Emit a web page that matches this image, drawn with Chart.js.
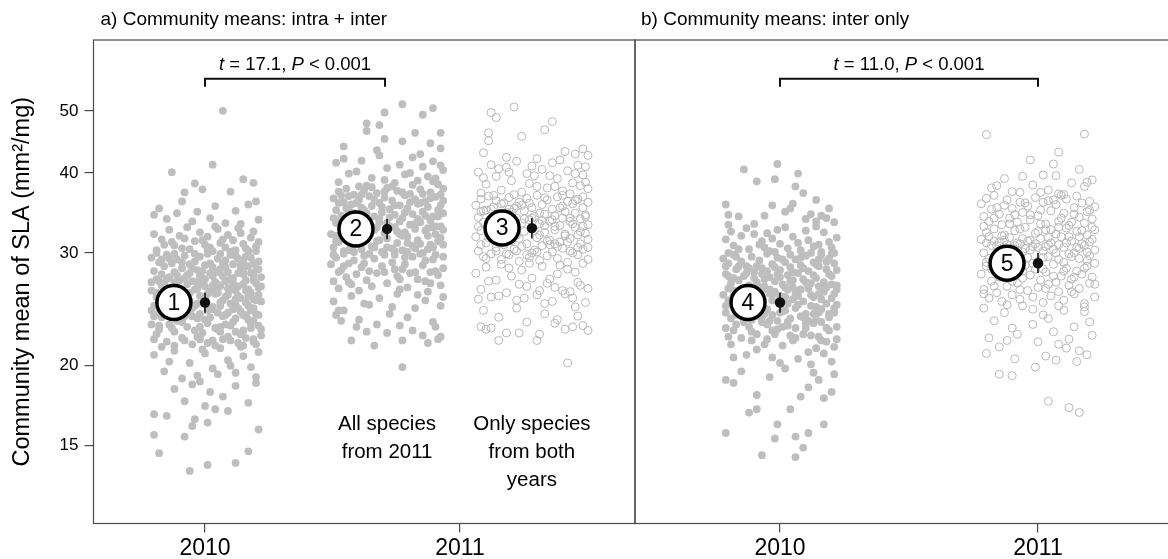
<!DOCTYPE html>
<html><head><meta charset="utf-8">
<script src="https://cdn.jsdelivr.net/npm/chart.js@4"></script>
<style>
html,body{margin:0;padding:0;background:#fff;overflow:hidden;width:1168px;height:559px;position:relative;}
#ca{position:absolute;left:0;top:0;}
#cb{position:absolute;left:630px;top:0;}
</style></head><body>
<canvas id="ca" width="640" height="559"></canvas>
<canvas id="cb" width="560" height="559"></canvas>
<script>
// ---------- DATA ----------
const yTicks = [15, 20, 30, 40, 50];
const yearPos = [1, 2];
const yearLabels = ['2010', '2011'];
const panelTitles = ['a) Community means: intra + inter', 'b) Community means: inter only'];

// cluster centres (x, in year units) per panel
const centersA = [1.0, 1.714, 2.282];
const centersB = [1.0, 2.0];

// group means and ±error (SLA, mm2/mg)
const meanA = [25.1, 32.7, 32.8];
const meanLoA = [24.2, 31.5, 31.6];
const meanHiA = [26.0, 33.9, 34.0];
const meanB = [25.1, 28.9];
const meanLoB = [24.2, 27.9];
const meanHiB = [26.0, 30.0];

// numbered markers
const numA = ['1', '2', '3'];
const numXA = [0.878, 1.592, 2.165];
const numB = ['4', '5'];
const numXB = [0.876, 1.880];

// t-test brackets
const testA = { from: 1.0, to: 1.706, y: 56.1, t: '17.1', p: '0.001' };
const testB = { from: 1.0, to: 2.0, y: 56.1, t: '11.0', p: '0.001' };

// group captions (panel a)
const captionX = [1.714, 2.282];
const captionY = 16.2;
const captionLines = [['All species', 'from 2011'], ['Only species', 'from both', 'years']];

// community means, [x jitter, SLA]
const c1 = [[0.07,50.0],[0.03,41.2],[-0.13,40.1],[0.15,39.1],[0.19,38.6],[-0.04,38.5],[-0.08,37.3],[-0.01,37.7],[0.10,37.4],[0.20,36.1],[-0.09,36.1],[-0.20,34.4],[-0.18,35.2],[0.04,35.5],[-0.03,34.8],[0.12,34.9],[0.17,35.7],[-0.15,33.9],[-0.05,33.6],[0.02,34.0],[0.08,33.4],[0.21,33.8],[-0.11,34.6],[0.14,33.3],
[-0.20,32.1],[-0.17,31.5],[-0.14,32.6],[-0.12,30.8],[-0.10,31.9],[-0.07,32.9],[-0.06,30.4],[-0.04,31.3],[-0.02,32.3],[0.00,30.9],[0.01,31.8],[0.03,30.2],[0.05,32.7],[0.06,31.1],[0.08,30.6],[0.09,32.0],[0.11,31.4],[0.12,30.3],[0.13,32.8],[0.15,31.0],[0.16,30.5],[0.18,31.7],[0.19,32.4],[0.20,30.7],[0.21,31.2],[-0.19,30.3],[-0.16,30.9],[-0.08,31.6],[0.02,30.6],[0.07,31.5],[0.10,30.1],[0.14,32.2],[0.17,30.2],[-0.13,31.2],[0.04,33.0],
[-0.21,29.5],[-0.20,28.1],[-0.19,27.3],[-0.18,29.0],[-0.17,27.8],[-0.16,28.6],[-0.15,29.8],[-0.14,27.5],[-0.13,28.9],[-0.12,28.0],[-0.11,29.3],[-0.10,27.2],[-0.09,28.4],[-0.08,29.7],[-0.07,27.7],[-0.06,28.8],[-0.05,27.1],[-0.04,29.1],[-0.03,28.2],[-0.02,29.6],[-0.01,27.4],[0.00,28.7],[0.01,29.9],[0.02,27.9],[0.03,28.5],[0.04,27.0],[0.05,29.4],[0.06,28.3],[0.07,27.6],[0.08,29.2],[0.09,28.0],[0.10,27.3],[0.11,28.8],[0.12,29.7],[0.13,27.9],[0.14,28.4],[0.15,29.0],[0.16,27.2],[0.17,28.6],[0.18,29.5],[0.19,27.7],[0.20,28.2],[0.21,29.1],[0.22,27.5],[-0.18,27.1],[-0.12,29.9],[-0.06,27.9],[0.00,27.3],[0.05,28.0],[0.10,29.8],[0.15,28.1],[0.19,28.9],[-0.03,27.0],[0.08,27.1],[0.13,29.4],
[-0.21,26.2],[-0.20,24.8],[-0.19,25.6],[-0.18,24.2],[-0.17,26.7],[-0.16,25.1],[-0.15,24.5],[-0.14,26.0],[-0.13,25.4],[-0.12,24.0],[-0.11,26.5],[-0.10,24.9],[-0.09,25.8],[-0.08,24.3],[-0.07,26.8],[-0.06,25.2],[-0.05,24.6],[-0.04,26.3],[-0.03,25.0],[-0.02,24.1],[-0.01,26.9],[0.00,25.5],[0.01,24.4],[0.02,26.1],[0.03,24.7],[0.04,25.9],[0.05,24.2],[0.06,26.6],[0.07,25.3],[0.08,24.0],[0.09,26.4],[0.10,25.0],[0.11,24.5],[0.12,26.2],[0.13,25.7],[0.14,24.3],[0.15,26.8],[0.16,25.1],[0.17,24.8],[0.18,26.0],[0.19,25.4],[0.20,24.1],[0.21,26.5],[0.22,25.2],[0.11,26.9],[0.14,25.5],[0.17,26.3],[0.19,24.6],[0.21,25.8],[0.08,25.6],[0.12,24.9],[0.16,24.0],[0.20,26.9],[0.05,26.0],[-0.16,26.4],[-0.09,24.6],[0.03,26.7],[0.18,24.4],[0.06,24.8],[-0.02,25.7],
[-0.21,23.2],[-0.19,22.4],[-0.17,23.8],[-0.15,21.8],[-0.13,22.9],[-0.11,23.5],[-0.09,22.1],[-0.07,23.0],[-0.05,21.6],[-0.03,23.7],[-0.01,22.5],[0.01,23.3],[0.03,21.9],[0.05,22.8],[0.07,23.9],[0.09,22.2],[0.11,23.4],[0.13,21.7],[0.15,22.7],[0.17,23.6],[0.19,22.0],[0.21,23.1],[0.22,22.3],[0.20,21.6],[0.18,22.9],[0.16,23.9],[0.14,22.4],[0.12,23.7],[0.10,21.9],[0.08,23.2],[0.06,22.6],[0.02,23.8],[-0.04,22.7],[-0.08,23.9],[-0.12,21.5],[-0.18,22.8],[0.04,21.5],[0.19,23.5],[0.15,21.5],[-0.02,22.0],
[-0.20,20.8],[-0.16,19.6],[-0.12,21.1],[-0.06,20.2],[-0.03,19.3],[0.00,20.9],[0.03,19.8],[0.06,21.3],[0.09,20.4],[0.12,19.5],[0.15,20.7],[0.18,19.9],[0.21,21.0],[-0.09,19.1],[0.05,19.4],[0.14,21.4],[0.20,19.2],[-0.14,20.3],[0.10,20.0],[-0.01,21.2],
[-0.05,18.7],[0.02,18.2],[-0.08,17.6],[0.00,17.3],[0.07,17.9],[0.12,18.6],[-0.02,18.9],[0.04,17.1],[0.17,17.5],[-0.12,18.4],[0.09,17.0],[0.20,18.8],
[-0.20,16.8],[-0.15,16.7],[-0.20,15.6],[-0.08,15.5],[0.21,15.9],[-0.05,16.1],[-0.04,16.5],[0.01,16.3],[-0.18,14.6],[-0.06,13.7],[0.01,14.0],[0.12,14.1],[0.17,14.7],
[-0.21,27.0],[-0.19,26.0],[-0.17,29.3],[-0.15,27.3],[-0.13,26.1],[-0.11,27.7],[-0.09,29.0],[-0.07,25.6],[-0.05,28.4],[-0.03,26.4],[-0.01,28.1],[0.01,25.9],[0.03,27.6],[0.05,26.8],[0.07,28.9],[0.09,25.8],[0.11,27.4],[0.13,26.6],[0.15,27.8],[0.17,25.7],[0.19,27.2],[0.21,28.3],[0.22,26.6],[0.20,25.3],[0.18,27.9],[0.16,26.2],[0.14,28.7],[0.12,25.4],[0.10,26.3],[0.08,28.5],[0.06,25.1],[0.04,26.5],[0.02,28.9],[0.00,26.6],[-0.02,27.6],[-0.04,24.8],[-0.06,26.0],[-0.08,27.4],[-0.10,25.5],[-0.12,27.0],[-0.14,24.7],[-0.16,26.9],[-0.18,25.9],[-0.20,23.9],
[-0.21,24.4],[-0.18,23.1],[-0.15,24.1],[-0.12,22.6],[-0.09,23.4],[-0.06,24.3],[-0.03,22.2],[0.00,23.6],[0.03,24.5],[0.06,23.0],[0.09,24.2],[0.12,22.6],[0.15,24.0],[0.18,23.3],[0.21,24.0],[0.22,22.8],[0.19,21.8],[0.16,22.1],[0.13,24.6],[0.10,23.1],[0.07,22.0],[0.04,22.9],[0.01,21.7],[-0.02,23.0],[-0.05,23.9],[-0.08,21.9],[-0.11,24.4],[-0.14,23.2],[-0.17,21.4],[-0.20,22.0],
[-0.19,30.0],[-0.14,29.4],[-0.09,30.5],[-0.04,29.9],[0.01,30.4],[0.06,29.9],[0.11,30.2],[0.16,29.6],[0.20,30.2],[-0.01,31.4]];

const c2 = [[0.06,51.2],[0.18,50.5],[-0.01,49.7],[0.14,49.3],[-0.08,47.8],[-0.03,47.5],[-0.08,46.5],[0.11,46.2],[0.21,46.2],[-0.01,45.2],[-0.17,44.0],[0.21,43.7],[0.17,44.5],[-0.04,43.4],[0.06,44.8],
[-0.20,41.5],[-0.17,42.1],[-0.12,40.2],[-0.10,41.8],[-0.06,39.3],[-0.03,42.6],[0.00,40.7],[0.03,38.6],[0.05,41.2],[0.07,39.8],[0.10,42.3],[0.12,38.9],[0.14,40.9],[0.16,39.5],[0.18,41.7],[0.20,38.4],[0.22,40.4],[-0.19,38.7],[-0.15,39.9],[-0.08,38.2],[0.09,40.0],[0.13,42.8],[0.19,39.2],[-0.01,39.0],[0.21,41.1],
[-0.21,36.5],[-0.20,35.0],[-0.19,37.4],[-0.18,34.3],[-0.17,36.0],[-0.16,37.8],[-0.15,34.9],[-0.14,35.7],[-0.13,37.0],[-0.12,34.1],[-0.11,36.3],[-0.10,35.3],[-0.09,37.6],[-0.08,34.6],[-0.07,36.8],[-0.06,35.5],[-0.05,34.2],[-0.04,37.2],[-0.03,35.9],[-0.02,34.7],[-0.01,36.6],[0.00,37.9],[0.01,35.1],[0.02,36.2],[0.03,34.4],[0.04,37.5],[0.05,35.6],[0.06,34.0],[0.07,36.9],[0.08,35.2],[0.09,37.1],[0.10,34.5],[0.11,36.4],[0.12,35.8],[0.13,37.7],[0.14,34.8],[0.15,36.1],[0.16,35.4],[0.17,37.3],[0.18,34.2],[0.19,36.7],[0.20,35.0],[0.21,37.0],[0.22,34.6],[0.22,36.2],
[-0.22,32.1],[-0.21,30.6],[-0.20,33.4],[-0.19,31.2],[-0.18,32.8],[-0.17,30.2],[-0.16,31.7],[-0.15,33.1],[-0.14,30.9],[-0.13,32.4],[-0.12,31.0],[-0.11,33.8],[-0.10,30.4],[-0.09,32.0],[-0.08,31.5],[-0.07,33.3],[-0.06,30.7],[-0.05,32.6],[-0.04,31.3],[-0.03,33.9],[-0.02,30.1],[-0.01,32.2],[0.00,31.6],[0.01,33.0],[0.02,30.5],[0.03,32.9],[0.04,31.1],[0.05,33.6],[0.06,30.3],[0.07,32.3],[0.08,31.8],[0.09,33.2],[0.10,30.8],[0.11,32.7],[0.12,31.4],[0.13,33.5],[0.14,30.0],[0.15,32.5],[0.16,31.9],[0.17,33.7],[0.18,30.6],[0.19,32.1],[0.20,31.3],[0.21,33.0],[0.22,30.9],[0.22,32.6],[-0.20,31.9],[-0.15,30.3],[-0.09,33.6],[-0.03,31.4],[0.03,30.2],[0.08,30.1],[0.13,31.0],[0.18,32.9],[0.21,31.7],[-0.18,33.9],[-0.12,32.5],[0.00,30.6],[0.06,31.9],[0.16,30.4],
[-0.22,28.8],[-0.21,27.1],[-0.20,29.5],[-0.19,26.4],[-0.18,28.2],[-0.17,29.9],[-0.16,27.5],[-0.15,28.9],[-0.14,26.8],[-0.13,29.2],[-0.12,27.8],[-0.11,26.2],[-0.10,28.5],[-0.09,29.7],[-0.08,27.2],[-0.07,28.1],[-0.06,26.6],[-0.05,29.4],[-0.04,27.9],[-0.02,28.6],[0.00,26.9],[0.02,29.0],[0.04,27.6],[0.06,28.3],[0.08,26.5],[0.10,29.6],[0.12,27.3],[0.14,28.7],[0.16,26.1],[0.18,29.3],[0.20,27.7],[0.22,28.4],[0.21,26.7],[0.19,29.8],[0.17,26.9],[0.15,27.1],[0.11,28.0],[0.07,29.5],[0.03,28.3],[-0.01,29.8],[0.05,26.3],[0.13,29.9],[0.17,28.0],[-0.19,28.0],[0.09,27.9],
[-0.21,25.2],[-0.17,24.4],[-0.14,25.7],[-0.11,23.6],[-0.07,24.9],[-0.03,25.5],[0.01,24.1],[0.04,25.9],[0.08,23.8],[0.11,24.6],[0.15,25.3],[0.18,23.4],[0.21,24.8],[0.22,25.6],[-0.19,24.4],[-0.18,23.5],[-0.12,23.0],[-0.08,22.6],[-0.04,23.2],[0.00,22.5],[0.05,23.1],[0.10,22.7],[0.14,22.3],[0.19,23.0],[0.21,22.2],[-0.14,21.9],[0.06,21.9],[0.16,21.7],[0.20,22.0],[0.06,19.9],[-0.20,24.0],[-0.09,25.0],[0.02,24.7],[0.12,25.8],[-0.05,21.5],
[-0.21,34.0],[-0.19,35.9],[-0.17,33.2],[-0.15,36.8],[-0.13,34.6],[-0.11,38.1],[-0.09,35.0],[-0.07,32.4],[-0.05,36.3],[-0.03,33.5],[-0.01,37.4],[0.01,34.1],[0.03,35.6],[0.05,32.1],[0.07,34.7],[0.09,36.0],[0.11,33.3],[0.13,35.9],[0.15,34.3],[0.17,36.5],[0.19,33.0],[0.21,35.6],[0.22,37.8],[0.20,34.2],[0.18,38.8],[0.16,32.8],[0.14,37.1],[0.12,33.9],[0.10,38.3],[0.08,31.1],[0.06,37.3],[0.04,32.4],[0.02,38.1],[0.00,33.4],[-0.02,35.4],[-0.04,32.9],[-0.06,38.0],[-0.08,33.0],[-0.10,37.0],[-0.12,35.9],[-0.14,32.0],[-0.16,35.2],[-0.18,36.9],[-0.20,31.3],
[-0.21,29.8],[-0.17,28.6],[-0.13,30.1],[-0.09,28.9],[-0.05,30.6],[-0.01,28.0],[0.03,29.8],[0.07,28.8],[0.11,30.5],[0.15,29.2],[0.19,28.1],[0.22,29.6],[-0.15,27.0],[0.05,27.3],[0.17,30.9],[-0.07,29.9]];

const c3 = [[-0.07,50.7],[-0.16,49.7],[-0.14,48.8],[0.08,48.1],[-0.17,46.2],[-0.04,45.6],[0.05,46.7],[-0.17,44.9],[-0.19,43.0],[0.20,43.6],[0.22,42.6],[-0.10,42.3],[0.13,43.2],[0.02,42.1],[0.17,42.8],
[-0.21,40.1],[-0.18,38.4],[-0.16,41.2],[-0.14,39.5],[-0.12,37.6],[-0.10,40.8],[-0.08,38.9],[-0.06,41.7],[-0.04,37.3],[-0.02,39.9],[0.00,41.0],[0.02,38.1],[0.04,40.5],[0.06,37.9],[0.08,41.5],[0.10,39.2],[0.12,37.5],[0.14,40.3],[0.16,38.6],[0.18,41.1],[0.20,39.7],[0.22,37.8],[-0.20,37.2],[-0.01,38.5],[0.07,39.6],[0.15,37.1],[0.21,40.9],[-0.13,40.6],[0.11,41.9],[0.19,38.2],
[-0.22,35.6],[-0.21,34.1],[-0.20,36.4],[-0.19,33.5],[-0.18,35.0],[-0.17,36.8],[-0.16,33.9],[-0.15,35.4],[-0.14,36.2],[-0.13,34.4],[-0.12,33.2],[-0.11,35.9],[-0.10,34.7],[-0.09,36.6],[-0.08,33.7],[-0.07,35.2],[-0.06,34.0],[-0.05,36.0],[-0.04,33.4],[-0.03,34.9],[-0.02,36.5],[-0.01,33.8],[0.00,35.3],[0.01,34.2],[0.02,36.9],[0.03,33.3],[0.04,35.7],[0.05,34.5],[0.06,36.3],[0.07,33.6],[0.08,35.1],[0.09,34.3],[0.10,36.7],[0.11,33.1],[0.12,35.5],[0.13,34.8],[0.14,36.1],[0.15,33.6],[0.16,35.8],[0.17,34.6],[0.18,36.4],[0.19,33.9],[0.20,35.3],[0.21,34.4],[0.22,36.0],[0.22,33.2],[-0.15,34.1],[0.05,33.1],[0.12,36.9],[-0.06,35.5],
[-0.22,31.8],[-0.21,30.2],[-0.20,32.5],[-0.19,29.6],[-0.18,31.1],[-0.17,32.9],[-0.16,29.9],[-0.15,31.5],[-0.14,30.6],[-0.13,32.2],[-0.12,29.3],[-0.11,30.9],[-0.10,32.7],[-0.09,29.8],[-0.08,31.3],[-0.07,30.4],[-0.06,32.0],[-0.05,29.1],[-0.04,30.7],[-0.03,32.4],[-0.02,31.0],[-0.01,29.5],[0.00,32.8],[0.01,30.3],[0.02,31.7],[0.03,29.2],[0.04,30.8],[0.05,32.3],[0.06,29.7],[0.07,31.4],[0.08,30.1],[0.09,32.6],[0.10,29.4],[0.11,31.2],[0.12,30.5],[0.13,32.1],[0.14,29.0],[0.15,31.6],[0.16,30.0],[0.17,32.9],[0.18,29.8],[0.19,31.0],[0.20,30.4],[0.21,32.2],[0.22,29.3],[0.22,31.5],[0.20,33.0],[0.18,32.0],[-0.20,30.9],[0.03,32.0],[0.15,30.2],[-0.07,31.9],[0.09,31.0],[0.00,30.0],[-0.15,32.8],
[-0.22,27.9],[-0.20,26.3],[-0.18,28.5],[-0.16,25.6],[-0.14,27.2],[-0.12,28.8],[-0.10,26.0],[-0.08,27.6],[-0.06,25.3],[-0.04,28.2],[-0.02,26.6],[0.00,27.4],[0.02,25.8],[0.04,28.6],[0.06,26.9],[0.08,25.2],[0.10,27.8],[0.12,26.2],[0.14,28.3],[0.16,25.5],[0.18,27.0],[0.20,28.9],[0.22,26.4],[0.21,25.1],[0.19,26.7],[0.17,28.0],[0.13,25.9],[0.11,28.7],[0.07,27.3],[0.03,26.2],[-0.01,28.9],[-0.05,26.8],[-0.09,28.4],[-0.13,25.7],[-0.17,27.1],[-0.21,25.4],[0.05,25.0],[0.15,26.1],[-0.03,25.5],[0.09,26.5],
[-0.19,24.4],[-0.16,22.9],[-0.13,23.8],[-0.10,22.5],[-0.06,24.6],[-0.02,23.4],[0.02,21.9],[0.05,24.1],[0.09,23.3],[0.13,22.8],[0.17,24.7],[0.20,23.1],[-0.20,23.0],[-0.18,22.8],[-0.13,21.9],[-0.05,22.5],[0.03,22.4],[0.10,23.6],[0.16,23.0],[0.22,22.7],[0.14,20.2],[0.18,23.9],
[-0.21,33.0],[-0.19,34.9],[-0.17,31.7],[-0.15,36.9],[-0.13,33.1],[-0.11,31.5],[-0.09,35.1],[-0.07,37.0],[-0.05,31.6],[-0.03,33.9],[-0.01,35.9],[0.01,32.5],[0.03,34.6],[0.05,36.6],[0.07,30.9],[0.09,33.0],[0.11,35.3],[0.13,31.9],[0.15,34.0],[0.17,36.2],[0.19,32.4],[0.21,34.2],[0.22,30.6],[0.20,36.7],[0.18,30.6],[0.16,33.3],[0.14,31.2],[0.12,34.0],[0.10,30.7],[0.08,33.8],[0.06,31.3],[0.04,33.7],[0.02,30.1],[0.00,34.0],[-0.02,29.8],[-0.04,35.6],[-0.06,30.2],[-0.08,34.7],[-0.10,29.9],[-0.12,35.8],[-0.14,30.2],[-0.16,35.1],[-0.18,29.4],[-0.20,34.8],
[-0.19,39.3],[-0.09,40.1],[0.01,39.6],[0.09,38.1],[0.17,39.9],[0.21,38.7]];

const c4 = [[-0.01,41.3],[-0.14,40.5],[-0.09,38.8],[-0.02,39.1],[0.07,39.9],[0.06,38.1],[0.09,37.2],[-0.21,35.7],[-0.03,35.6],[0.14,36.3],[0.05,35.8],[-0.20,34.4],[-0.16,34.2],[-0.06,34.3],[0.02,34.8],[0.04,35.2],[0.12,34.5],[0.16,34.3],[0.18,34.0],[0.21,33.5],[-0.20,33.2],[0.14,33.6],[0.19,35.2],[-0.10,33.3],[0.10,33.9],
[-0.10,32.1],[-0.05,32.2],[-0.03,31.6],[-0.07,31.3],[-0.01,32.6],[0.10,32.5],[0.14,33.0],[0.17,32.3],[0.19,31.2],[-0.21,31.5],[-0.18,30.8],[-0.15,31.9],[-0.12,30.4],[-0.08,30.9],[-0.04,30.2],[0.00,31.0],[0.03,30.5],[0.05,31.8],[0.08,30.3],[0.11,31.4],[0.13,30.7],[0.16,30.1],[0.20,30.6],[0.22,31.7],[-0.19,32.4],[0.02,32.9],[0.07,31.1],[-0.13,32.8],[0.12,30.0],[-0.02,30.1],
[-0.22,29.4],[-0.21,27.8],[-0.20,28.9],[-0.19,26.9],[-0.18,29.8],[-0.17,28.3],[-0.16,27.2],[-0.15,29.1],[-0.14,27.6],[-0.13,28.6],[-0.12,26.7],[-0.11,29.6],[-0.10,28.0],[-0.09,27.0],[-0.08,29.2],[-0.07,28.4],[-0.06,26.6],[-0.05,29.9],[-0.04,27.5],[-0.03,28.8],[-0.02,27.1],[-0.01,29.5],[0.00,28.2],[0.01,26.8],[0.02,29.0],[0.03,27.7],[0.04,28.5],[0.05,26.5],[0.06,29.3],[0.07,27.9],[0.08,28.7],[0.09,27.3],[0.10,29.7],[0.11,28.1],[0.12,26.9],[0.13,29.0],[0.14,27.4],[0.15,28.6],[0.16,29.8],[0.17,27.0],[0.18,28.3],[0.19,29.4],[0.20,27.6],[0.21,28.9],[0.22,26.7],[0.20,29.9],[0.15,26.6],[0.05,27.2],[-0.07,27.8],[-0.18,27.4],
[-0.22,25.8],[-0.21,24.2],[-0.20,25.3],[-0.19,23.7],[-0.18,26.2],[-0.17,24.7],[-0.16,25.6],[-0.15,23.9],[-0.14,26.4],[-0.13,24.4],[-0.12,25.1],[-0.11,23.6],[-0.10,26.0],[-0.09,24.9],[-0.08,25.5],[-0.07,23.8],[-0.06,26.3],[-0.05,24.5],[-0.04,25.9],[-0.03,24.0],[-0.02,26.1],[-0.01,23.5],[0.00,25.7],[0.01,24.3],[0.02,26.5],[0.03,25.0],[0.04,23.7],[0.05,25.4],[0.06,24.6],[0.07,26.2],[0.08,23.9],[0.09,25.2],[0.10,24.1],[0.11,26.4],[0.12,24.8],[0.13,25.6],[0.14,23.6],[0.15,25.9],[0.16,24.5],[0.17,26.1],[0.18,25.0],[0.19,23.8],[0.20,25.5],[0.21,24.2],[0.22,26.3],[0.22,24.9],[0.18,26.5],[0.14,24.7],[0.08,26.3],[0.02,24.4],[-0.03,25.3],[-0.09,23.9],[-0.15,25.0],[-0.20,26.4],[0.11,23.5],
[-0.21,22.9],[-0.19,21.6],[-0.17,23.2],[-0.15,22.1],[-0.13,20.8],[-0.11,22.6],[-0.09,21.2],[-0.07,23.4],[-0.05,22.0],[-0.03,20.6],[-0.01,22.8],[0.01,21.5],[0.03,23.1],[0.05,21.9],[0.07,20.5],[0.09,22.4],[0.11,21.0],[0.13,23.3],[0.15,22.2],[0.17,20.9],[0.19,22.7],[0.21,21.4],[0.22,23.0],[0.20,20.3],[0.18,21.8],[0.16,23.4],[0.12,20.1],[0.06,22.9],[0.00,20.2],[-0.06,21.6],[-0.12,23.0],[-0.18,20.6],[0.14,21.3],[-0.04,23.5],[0.10,22.9],
[-0.21,19.0],[-0.09,18.0],[-0.09,17.1],[0.04,17.1],[0.08,17.9],[0.11,18.5],[0.17,17.8],[0.20,18.2],[0.21,19.4],[-0.01,16.2],[-0.21,15.7],[0.17,16.2],[-0.02,15.4],[0.06,15.5],[0.11,15.7],[0.09,14.9],[-0.07,14.5],[0.06,14.4],[-0.15,19.6],[-0.04,19.2],[0.02,19.8],[0.13,19.5],[-0.18,18.8],[0.15,19.0],[-0.12,16.9],
[-0.21,28.6],[-0.19,27.4],[-0.17,29.6],[-0.15,26.2],[-0.13,27.9],[-0.11,25.6],[-0.09,28.6],[-0.07,26.5],[-0.05,28.1],[-0.03,25.8],[-0.01,27.8],[0.01,29.3],[0.03,26.3],[0.05,28.0],[0.07,25.7],[0.09,28.4],[0.11,26.6],[0.13,27.7],[0.15,29.3],[0.17,26.3],[0.19,27.8],[0.21,25.9],[0.22,28.2],[0.20,26.8],[0.18,29.1],[0.16,25.4],[0.14,28.8],[0.12,25.8],[0.10,27.0],[0.08,29.5],[0.06,25.9],[0.04,27.1],[0.02,25.6],[0.00,27.5],[-0.02,28.5],[-0.04,26.3],[-0.06,27.3],[-0.08,25.4],[-0.10,27.4],[-0.12,28.4],[-0.14,25.2],[-0.16,28.6],[-0.18,25.7],[-0.20,27.6],
[-0.21,24.8],[-0.18,22.7],[-0.15,24.6],[-0.12,23.7],[-0.09,22.4],[-0.06,24.1],[-0.03,22.7],[0.00,24.2],[0.03,23.4],[0.06,22.1],[0.09,23.8],[0.12,22.3],[0.15,24.2],[0.18,22.9],[0.21,24.6],[0.22,22.0],[0.19,24.1],[0.16,21.9],[0.13,24.1],[0.10,23.3],[0.07,24.9],[0.04,22.3],[0.01,23.0],[-0.02,22.4],[-0.05,23.2],[-0.08,24.7],[-0.11,21.9],[-0.14,23.4],[-0.17,24.0],[-0.20,22.2],
[-0.16,30.4],[-0.06,30.6],[0.04,29.8],[0.15,30.9],[0.21,30.0],[-0.20,30.0]];

const c5 = [[-0.20,45.9],[0.18,46.0],[0.08,43.1],[-0.03,41.9],[0.06,41.3],[0.16,40.5],[-0.06,39.5],[0.02,39.7],[0.07,39.6],[0.21,39.0],[0.19,38.7],[0.18,38.1],[-0.18,37.9],[-0.16,38.2],[-0.02,38.3],[-0.10,37.4],[0.04,37.6],[0.08,37.1],[0.10,37.0],[-0.07,37.3],[0.13,38.6],[-0.13,39.2],
[-0.22,35.8],[-0.21,34.2],[-0.20,36.5],[-0.19,33.6],[-0.18,35.1],[-0.17,36.9],[-0.15,34.5],[-0.14,33.2],[-0.13,35.6],[-0.12,36.3],[-0.11,34.0],[-0.10,35.2],[-0.08,33.5],[-0.07,36.0],[-0.06,34.7],[-0.04,35.5],[-0.03,33.8],[-0.01,36.6],[0.00,34.3],[0.01,35.0],[0.03,33.3],[0.04,36.2],[0.05,34.9],[0.07,35.7],[0.08,33.6],[0.10,34.6],[0.11,36.4],[0.12,33.1],[0.14,35.3],[0.15,36.8],[0.16,34.1],[0.17,35.9],[0.18,33.4],[0.19,34.8],[0.20,36.1],[0.21,33.9],[0.22,35.4],[0.09,36.9],[-0.09,34.4],[0.02,36.0],
[-0.22,31.5],[-0.21,30.0],[-0.20,32.3],[-0.19,29.4],[-0.18,30.8],[-0.17,32.7],[-0.16,29.7],[-0.15,31.2],[-0.14,30.3],[-0.13,32.0],[-0.12,29.2],[-0.11,31.7],[-0.10,30.5],[-0.09,32.5],[-0.08,29.8],[-0.07,31.0],[-0.06,30.1],[-0.05,32.9],[-0.04,29.5],[-0.03,31.4],[-0.02,30.7],[-0.01,32.2],[0.00,29.1],[0.01,31.6],[0.02,30.2],[0.03,32.6],[0.04,29.6],[0.05,31.1],[0.06,30.4],[0.07,32.1],[0.08,29.3],[0.09,31.8],[0.10,30.6],[0.11,32.8],[0.12,29.9],[0.13,31.3],[0.14,30.0],[0.15,32.4],[0.16,29.4],[0.17,31.0],[0.18,30.8],[0.19,32.0],[0.20,29.7],[0.21,31.5],[0.22,30.3],[0.22,32.6],[-0.20,29.0],[-0.14,31.9],[-0.06,31.6],[0.02,29.5],[0.08,32.9],[0.16,31.8],[0.19,29.2],[-0.11,29.9],[0.04,30.9],[0.13,29.6],[-0.17,31.3],[0.00,32.4],[0.10,29.0],[-0.03,30.3],
[-0.22,27.8],[-0.21,26.3],[-0.20,28.6],[-0.19,25.5],[-0.18,27.1],[-0.17,28.9],[-0.16,26.0],[-0.15,27.5],[-0.14,25.2],[-0.13,28.2],[-0.12,26.6],[-0.11,27.9],[-0.10,25.8],[-0.09,28.5],[-0.08,26.9],[-0.07,25.4],[-0.06,27.4],[-0.05,28.7],[-0.04,26.2],[-0.03,27.7],[-0.02,25.6],[-0.01,28.3],[0.00,26.5],[0.01,27.2],[0.02,25.1],[0.03,28.0],[0.04,26.8],[0.05,25.7],[0.06,28.8],[0.07,27.0],[0.08,26.1],[0.09,27.6],[0.10,25.3],[0.11,28.4],[0.12,26.7],[0.13,27.3],[0.14,25.9],[0.15,28.1],[0.16,26.4],[0.17,27.8],[0.18,25.0],[0.19,28.6],[0.20,26.9],[0.21,27.5],[0.22,25.6],
[-0.21,24.6],[-0.17,23.5],[-0.13,24.2],[-0.10,22.9],[-0.06,24.8],[-0.02,23.2],[0.02,24.0],[0.06,22.6],[0.10,24.4],[0.14,23.0],[0.18,24.7],[0.21,22.3],[-0.19,22.1],[-0.15,21.4],[-0.08,22.4],[0.00,21.8],[0.04,23.7],[0.08,21.6],[0.12,22.0],[0.16,21.1],[0.20,23.4],[-0.20,20.9],[-0.12,21.9],[-0.09,20.5],[0.03,20.7],[0.07,20.4],[0.11,21.3],[0.15,20.3],[0.19,20.8],[-0.15,19.4],[-0.10,19.3],[-0.01,19.9],[0.04,17.6],[0.12,17.2],[0.16,16.9],
[-0.21,33.0],[-0.19,31.8],[-0.17,34.0],[-0.15,30.1],[-0.13,31.4],[-0.11,33.3],[-0.09,30.8],[-0.07,32.7],[-0.05,30.5],[-0.03,34.4],[-0.01,31.0],[0.01,33.3],[0.03,30.7],[0.05,32.6],[0.07,30.0],[0.09,34.0],[0.11,31.1],[0.13,33.5],[0.15,30.6],[0.17,32.5],[0.19,30.1],[0.21,32.9],[0.22,28.9],[0.20,31.2],[0.18,28.4],[0.16,30.5],[0.14,27.5],[0.12,31.8],[0.10,28.1],[0.08,30.9],[0.06,27.6],[0.04,31.7],[0.02,28.3],[0.00,30.6],[-0.02,28.9],[-0.04,31.3],[-0.06,28.1],[-0.08,31.1],[-0.10,27.1],[-0.12,30.9],[-0.14,28.0],[-0.16,30.8],[-0.18,28.3],[-0.20,31.1],
[-0.21,25.9],[-0.17,26.6],[-0.12,24.9],[-0.07,26.3],[-0.02,24.5],[0.03,26.4],[0.08,24.8],[0.13,26.1],[0.18,24.3],[0.22,26.8],[-0.16,35.3],[-0.05,35.9],[0.06,36.3],[0.14,34.5],[0.20,35.0],[0.01,37.3]];

// ---------- STYLE / HELPERS ----------
const FONT = "'Liberation Sans', Arial, Helvetica, sans-serif";
const GREY = '#bebebe';
const AXIS = '#4a4a4a';

function pts(arr, cx) { return arr.map(p => ({ x: cx + p[0], y: p[1] })); }

function drawRich(ctx, parts, cx, y, size) {
  let total = 0;
  parts.forEach(p => { ctx.font = (p[1] ? 'italic ' : '') + size + 'px ' + FONT; p.w = ctx.measureText(p[0]).width; total += p.w; });
  let x = cx - total / 2;
  ctx.textAlign = 'left'; ctx.textBaseline = 'alphabetic'; ctx.fillStyle = '#000';
  parts.forEach(p => { ctx.font = (p[1] ? 'italic ' : '') + size + 'px ' + FONT; ctx.fillText(p[0], x, y); x += p.w; });
}

function makePlugin(cfg) {
  return {
    id: 'decor' + cfg.id,
    afterDatasetsDraw(chart) {
      const ctx = chart.ctx, a = chart.chartArea, xs = chart.scales.x, ys = chart.scales.y;
      ctx.save();
      ctx.strokeStyle = AXIS; ctx.lineWidth = 1.2;
      ctx.strokeRect(a.left, a.top, a.right - a.left, a.bottom - a.top);
      ctx.strokeStyle = '#111'; ctx.lineWidth = 1.6;
      cfg.centers.forEach((c, i) => {
        const px = xs.getPixelForValue(c);
        ctx.beginPath(); ctx.moveTo(px, ys.getPixelForValue(cfg.lo[i])); ctx.lineTo(px, ys.getPixelForValue(cfg.hi[i])); ctx.stroke();
      });
      ctx.fillStyle = '#000'; ctx.font = '23px ' + FONT; ctx.textAlign = 'center'; ctx.textBaseline = 'middle';
      cfg.numX.forEach((nx, i) => {
        ctx.fillText(cfg.num[i], xs.getPixelForValue(nx), ys.getPixelForValue(cfg.mean[i]) + 1);
      });
      const t = cfg.test;
      const x1 = xs.getPixelForValue(t.from), x2 = xs.getPixelForValue(t.to), by = ys.getPixelForValue(t.y);
      ctx.strokeStyle = '#111'; ctx.lineWidth = 2;
      ctx.beginPath(); ctx.moveTo(x1, by + 8); ctx.lineTo(x1, by); ctx.lineTo(x2, by); ctx.lineTo(x2, by + 8); ctx.stroke();
      drawRich(ctx, [['t', true], [' = ' + t.t + ', ', false], ['P', true], [' < ' + t.p, false]], (x1 + x2) / 2, by - 9, 18.5);
      if (cfg.captions) {
        ctx.fillStyle = '#000'; ctx.font = '20.5px ' + FONT; ctx.textAlign = 'center'; ctx.textBaseline = 'middle';
        cfg.captions.forEach((lines, i) => {
          const cx = xs.getPixelForValue(captionX[i]), cy = ys.getPixelForValue(captionY);
          lines.forEach((ln, j) => ctx.fillText(ln, cx, cy + j * 28));
        });
      }
      ctx.fillStyle = '#000'; ctx.font = '19px ' + FONT; ctx.textAlign = 'left'; ctx.textBaseline = 'alphabetic';
      ctx.fillText(cfg.title, a.left + cfg.titleDx, 25);
      ctx.restore();
    }
  };
}

function baseOptions(xmin, xmax, showY, padL, padR) {
  return {
    responsive: false, animation: false, events: [],
    layout: { autoPadding: false, padding: { top: 40, left: padL, right: padR, bottom: 0 } },
    plugins: { legend: { display: false }, tooltip: { enabled: false } },
    scales: {
      x: {
        type: 'linear', min: xmin, max: xmax,
        afterBuildTicks: ax => { ax.ticks = yearPos.map(v => ({ value: v })); },
        afterFit: ax => { ax.height = 35.5; },
        grid: { display: true, drawOnChartArea: false, drawTicks: true, tickLength: 9, color: AXIS, lineWidth: 1.2 },
        border: { display: false },
        ticks: { color: '#000', font: { family: FONT, size: 23 }, padding: 2, maxRotation: 0, autoSkip: false,
          callback: v => yearLabels[yearPos.indexOf(v)] }
      },
      y: {
        type: 'logarithmic', min: 11.34, max: 64.5, display: showY,
        afterBuildTicks: ax => { ax.ticks = yTicks.map(v => ({ value: v })); },
        afterFit: ax => { ax.width = showY ? 93.5 : 0; },
        grid: { display: true, drawOnChartArea: false, drawTicks: true, tickLength: 9, color: AXIS, lineWidth: 1.2 },
        border: { display: false },
        ticks: { color: '#000', font: { family: FONT, size: 17 }, padding: 6, autoSkip: false, callback: v => String(v) },
        title: { display: true, text: 'Community mean of SLA (mm²/mg)', color: '#000', font: { family: FONT, size: 23.5 }, padding: { top: 8, bottom: 0 } }
      }
    }
  };
}

function filled(arr, cx) {
  return { data: pts(arr, cx), backgroundColor: GREY, borderWidth: 0, pointRadius: 3.9, order: 3 };
}
function open(arr, cx) {
  return { data: pts(arr, cx), backgroundColor: 'rgba(0,0,0,0)', borderColor: '#b8b8b8', borderWidth: 1, pointRadius: 4, order: 3 };
}
function labelsDs(xs, ys) {
  return { data: xs.map((x, i) => ({ x, y: ys[i] })), backgroundColor: '#fff', borderColor: '#000', borderWidth: 3.5, pointRadius: 17, order: 1 };
}
function meansDs(xs, ys) {
  return { data: xs.map((x, i) => ({ x, y: ys[i] })), backgroundColor: '#111', borderWidth: 0, pointRadius: 5.2, order: 0 };
}

new Chart(document.getElementById('ca'), {
  type: 'scatter',
  data: { datasets: [
    filled(c1, centersA[0]), filled(c2, centersA[1]), open(c3, centersA[2]),
    labelsDs(numXA, meanA), meansDs(centersA, meanA)
  ] },
  options: baseOptions(0.5627, 2.6863, true, 0, 5),
  plugins: [makePlugin({ id: 'A', centers: centersA, lo: meanLoA, hi: meanHiA, mean: meanA, num: numA, numX: numXA,
    test: testA, captions: captionLines, title: panelTitles[0], titleDx: 7 })]
});

new Chart(document.getElementById('cb'), {
  type: 'scatter',
  data: { datasets: [
    filled(c4, centersB[0]), open(c5, centersB[1]),
    labelsDs(numXB, meanB), meansDs(centersB, meanB)
  ] },
  options: baseOptions(0.438, 2.531, false, 5, 15),
  plugins: [makePlugin({ id: 'B', centers: centersB, lo: meanLoB, hi: meanHiB, mean: meanB, num: numB, numX: numXB,
    test: testB, captions: null, title: panelTitles[1], titleDx: 6 })]
});
</script>
</body></html>
